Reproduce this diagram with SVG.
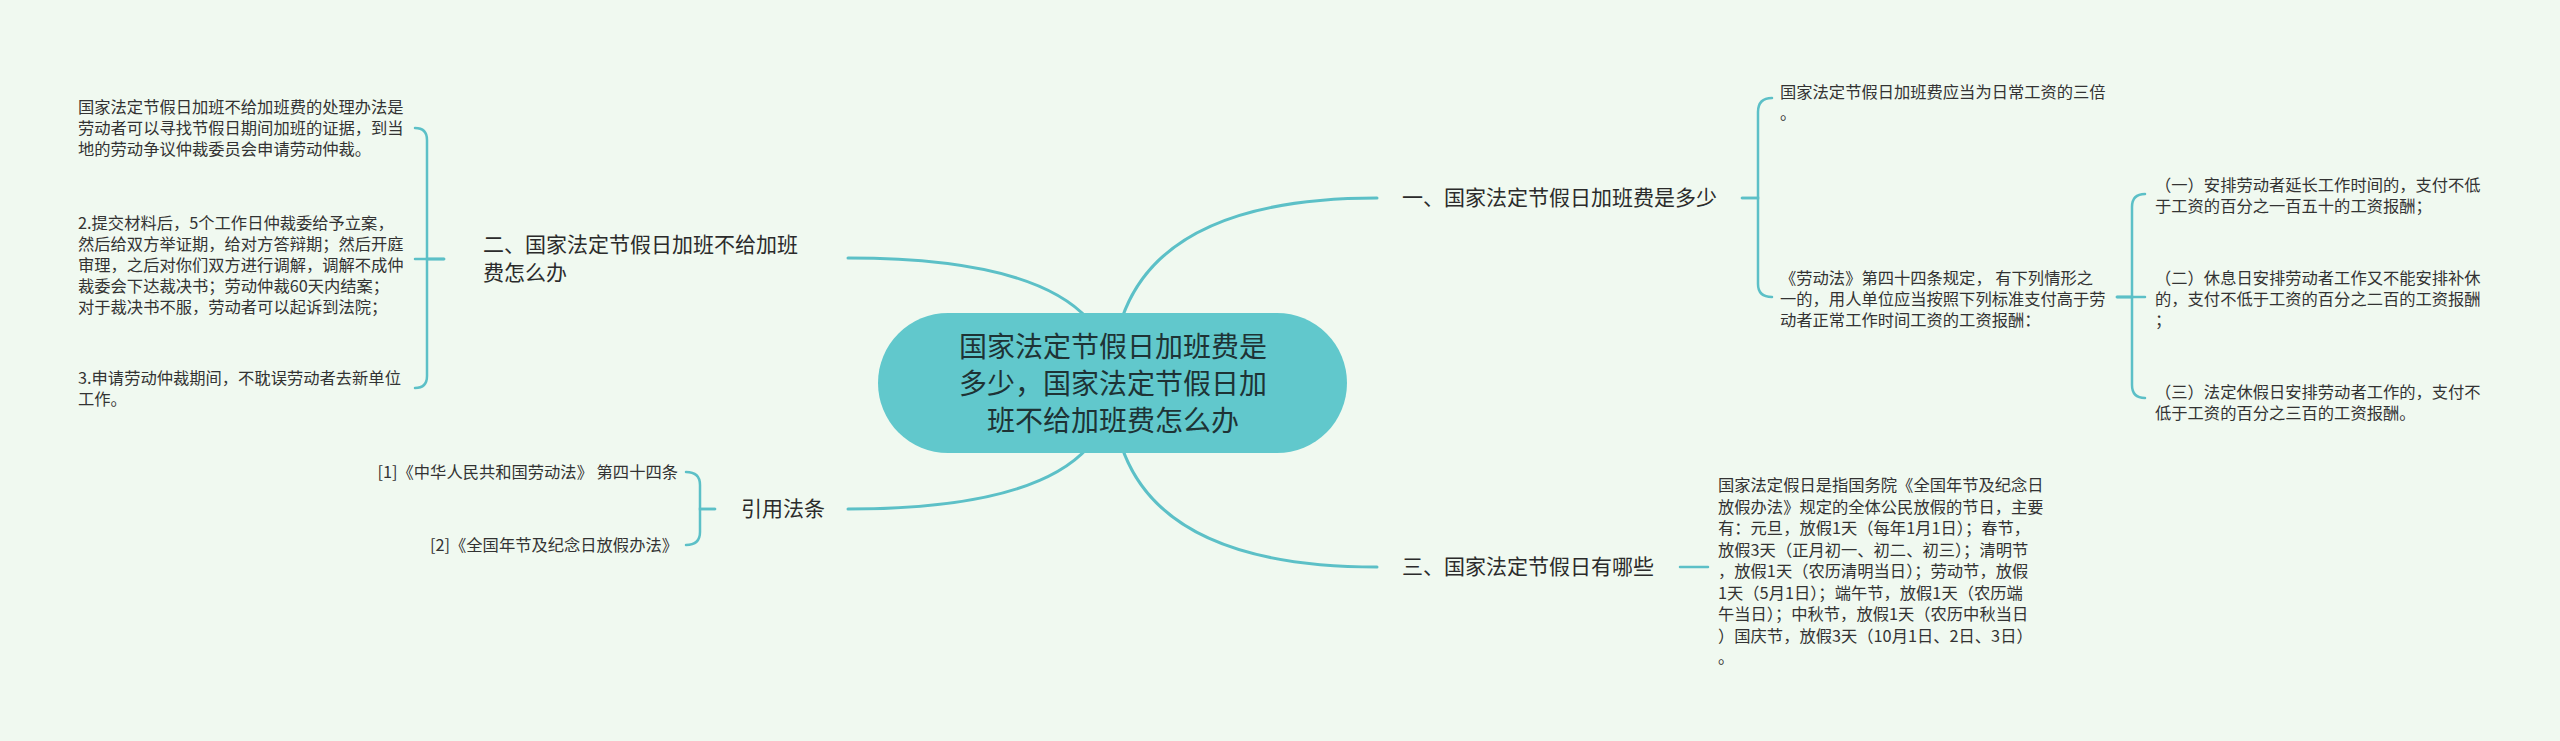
<svg xmlns="http://www.w3.org/2000/svg" width="2560" height="741" viewBox="0 0 2560 741">
<style>
.bg{fill:#f0f9f0}
.c{fill:none;stroke:#5cc0c7;stroke-width:3;stroke-linecap:round}
.b{fill:none;stroke:#5cc0c7;stroke-width:2.5;stroke-linecap:round}
text{font-family:"Noto Sans CJK SC","Noto Sans",sans-serif;fill:#333}
.t{font-size:16.3px}
.n1{font-size:21px;fill:#2b2b2b}
.root{font-size:28px;fill:#1e3335}
</style>
<rect class="bg" x="0" y="0" width="2560" height="741"/>
<g id="connectors">
<path class="c" d="M1112,383 Q1112,258 848,258"/>
<path class="c" d="M1112,383 Q1112,198 1377,198"/>
<path class="c" d="M1112,383 Q1112,509 848,509"/>
<path class="c" d="M1112,383 Q1112,567 1377,567"/>
<path class="b" d="M444,259 H427 V140 Q427,128 415,128"/>
<path class="b" d="M444,259 H415"/>
<path class="b" d="M444,259 H427 V376 Q427,388 415,388"/>
<path class="b" d="M715,509 H700 V485 Q700,472 686,472"/>
<path class="b" d="M715,509 H700 V532 Q700,545 686,545"/>
<path class="b" d="M1742,198 H1758 V112 Q1758,98 1772,98"/>
<path class="b" d="M1742,198 H1758 V284 Q1758,297 1772,297"/>
<path class="b" d="M2117,297 H2132 V207 Q2132,194 2145,194"/>
<path class="b" d="M2117,297 H2145"/>
<path class="b" d="M2117,297 H2132 V385 Q2132,398 2145,398"/>
<path class="b" d="M1680,567 H1708"/>
</g>
<g id="root">
<rect x="878" y="313" width="469" height="140" rx="70" ry="70" fill="#61c8cc"/>
<text class="root" text-anchor="middle" x="1113" y="357">国家法定节假日加班费是</text>
<text class="root" text-anchor="middle" x="1113" y="394">多少，国家法定节假日加</text>
<text class="root" text-anchor="middle" x="1113" y="431">班不给加班费怎么办</text>
</g>
<g id="node2">
<text class="n1" x="483" y="252">二、国家法定节假日加班不给加班</text>
<text class="n1" x="483" y="280">费怎么办</text>
</g>
<g id="node2-c1">
<text class="t" x="78" y="113">国家法定节假日加班不给加班费的处理办法是</text>
<text class="t" x="78" y="134">劳动者可以寻找节假日期间加班的证据，到当</text>
<text class="t" x="78" y="155">地的劳动争议仲裁委员会申请劳动仲裁。</text>
</g>
<g id="node2-c2">
<text class="t" x="78" y="229">2.提交材料后，5个工作日仲裁委给予立案，</text>
<text class="t" x="78" y="250">然后给双方举证期，给对方答辩期；然后开庭</text>
<text class="t" x="78" y="271">审理，之后对你们双方进行调解，调解不成仲</text>
<text class="t" x="78" y="292">裁委会下达裁决书；劳动仲裁60天内结案；</text>
<text class="t" x="78" y="313">对于裁决书不服，劳动者可以起诉到法院；</text>
</g>
<g id="node2-c3">
<text class="t" x="78" y="384">3.申请劳动仲裁期间，不耽误劳动者去新单位</text>
<text class="t" x="78" y="405">工作。</text>
</g>
<g id="refs">
<text class="n1" x="741" y="516">引用法条</text>
</g>
<g id="ref1">
<text class="t" text-anchor="end" x="678" y="478">[1]《中华人民共和国劳动法》 第四十四条</text>
</g>
<g id="ref2">
<text class="t" text-anchor="end" x="678" y="551">[2]《全国年节及纪念日放假办法》</text>
</g>
<g id="node1">
<text class="n1" x="1402" y="205">一、国家法定节假日加班费是多少</text>
</g>
<g id="node1-c1">
<text class="t" x="1780" y="98">国家法定节假日加班费应当为日常工资的三倍</text>
<text class="t" x="1780" y="119">。</text>
</g>
<g id="node1-c2">
<text class="t" x="1780" y="284">《劳动法》第四十四条规定， 有下列情形之</text>
<text class="t" x="1780" y="305">一的，用人单位应当按照下列标准支付高于劳</text>
<text class="t" x="1780" y="326">动者正常工作时间工资的工资报酬：</text>
</g>
<g id="node1-c2-1">
<text class="t" x="2155" y="191">（一）安排劳动者延长工作时间的，支付不低</text>
<text class="t" x="2155" y="212">于工资的百分之一百五十的工资报酬；</text>
</g>
<g id="node1-c2-2">
<text class="t" x="2155" y="284">（二）休息日安排劳动者工作又不能安排补休</text>
<text class="t" x="2155" y="305">的，支付不低于工资的百分之二百的工资报酬</text>
<text class="t" x="2155" y="326">；</text>
</g>
<g id="node1-c2-3">
<text class="t" x="2155" y="398">（三）法定休假日安排劳动者工作的，支付不</text>
<text class="t" x="2155" y="419">低于工资的百分之三百的工资报酬。</text>
</g>
<g id="node3">
<text class="n1" x="1402" y="574">三、国家法定节假日有哪些</text>
</g>
<g id="node3-c1">
<text class="t" x="1718" y="491">国家法定假日是指国务院《全国年节及纪念日</text>
<text class="t" x="1718" y="512.5">放假办法》规定的全体公民放假的节日，主要</text>
<text class="t" x="1718" y="534">有：元旦，放假1天（每年1月1日）；春节，</text>
<text class="t" x="1718" y="555.5">放假3天（正月初一、初二、初三）；清明节</text>
<text class="t" x="1718" y="577">，放假1天（农历清明当日）；劳动节，放假</text>
<text class="t" x="1718" y="598.5">1天（5月1日）；端午节，放假1天（农历端</text>
<text class="t" x="1718" y="620">午当日）；中秋节，放假1天（农历中秋当日</text>
<text class="t" x="1718" y="641.5">）国庆节，放假3天（10月1日、2日、3日）</text>
<text class="t" x="1718" y="663">。</text>
</g>
</svg>
